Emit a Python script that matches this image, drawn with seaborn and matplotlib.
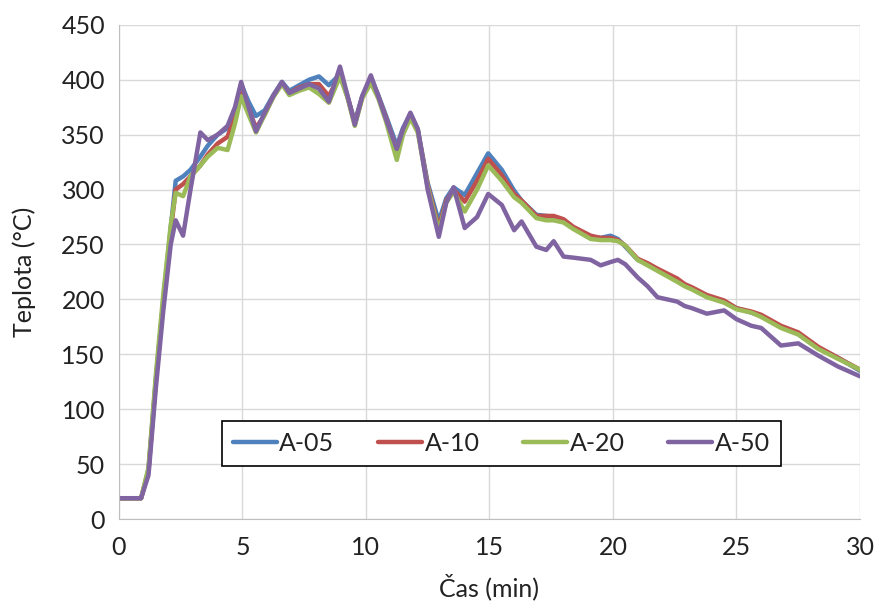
import pandas as pd
import matplotlib
matplotlib.use("Agg")
import matplotlib.pyplot as plt
import seaborn as sns

# Time axis (min) shared by all four series
cas = [0, 0.9, 1.2, 1.5, 1.8, 2.1, 2.3, 2.6, 2.9, 3.3, 3.6, 4.0, 4.4, 4.7, 4.95,
       5.25, 5.55, 5.9, 6.25, 6.6, 6.9, 7.3, 7.7, 8.1, 8.5, 8.95, 9.25, 9.55, 9.85,
       10.2, 10.5, 10.8, 11.25, 11.5, 11.8, 12.1, 12.5, 12.95, 13.25, 13.55, 14.0,
       14.5, 14.95, 15.5, 16.0, 16.3, 16.9, 17.3, 17.6, 18.0, 18.4, 19.1, 19.5,
       19.9, 20.2, 20.5, 21.0, 21.4, 21.8, 22.6, 22.9, 23.2, 23.8, 24.5, 25.0,
       25.6, 26.0, 26.8, 27.5, 28.3, 29.1, 30.0]

a05 = [19, 19, 45, 128, 200, 265, 308, 312, 318, 330, 340, 350, 356, 372, 396,
       380, 367, 372, 386, 398, 390, 395, 400, 403, 395, 405, 385, 362, 385,
       402, 386, 368, 340, 356, 369, 355, 306, 271, 292, 302, 295,
       315, 333, 318, 299, 290, 277, 276, 275, 272, 265, 257, 256,
       258, 255, 248, 236, 232, 227, 218, 213, 210, 203, 198, 192,
       188, 185, 175, 169, 156, 147, 135]

a10 = [19, 19, 44, 126, 198, 262, 300, 305, 312, 322, 332, 342, 348, 368, 393,
       374, 356, 368, 385, 397, 388, 393, 396, 396, 385, 405, 385, 360, 384,
       400, 385, 366, 336, 354, 368, 354, 304, 265, 290, 300, 289,
       308, 328, 313, 296, 290, 276, 276, 276, 273, 266, 258, 256,
       256, 254, 249, 237, 233, 228, 219, 214, 211, 204, 199, 192,
       189, 186, 176, 170, 157, 147, 136]

a20 = [19, 19, 47, 132, 205, 268, 297, 294, 312, 322, 330, 338, 336, 360, 385,
       368, 352, 368, 384, 396, 386, 390, 393, 387, 379, 403, 384, 358, 383,
       397, 383, 363, 327, 350, 365, 352, 302, 262, 288, 298, 280,
       300, 322, 308, 293, 288, 274, 272, 272, 270, 264, 255, 254,
       254, 253, 249, 236, 231, 226, 216, 212, 209, 202, 197, 191,
       188, 184, 174, 168, 155, 146, 136]

a50 = [19, 19, 40, 120, 190, 250, 272, 258, 300, 352, 345, 350, 358, 375, 398,
       375, 353, 370, 385, 398, 388, 392, 396, 392, 380, 412, 386, 359, 385,
       404, 385, 365, 337, 355, 370, 355, 300, 257, 288, 302, 265,
       275, 296, 286, 263, 271, 248, 245, 253, 239, 238, 236, 231,
       234, 236, 232, 220, 212, 202, 198, 194, 192, 187, 190, 182,
       176, 174, 158, 160, 149, 139, 130]

series = {"A-05": a05, "A-10": a10, "A-20": a20, "A-50": a50}
colors = ["#4F81BD", "#C0504D", "#9BBB59", "#8064A2"]

df = pd.concat(
    [pd.DataFrame({"cas": cas, "teplota": v, "vzorek": k}) for k, v in series.items()],
    ignore_index=True,
)

sns.set_style("whitegrid")
plt.rcParams["font.family"] = ["Lato", "DejaVu Sans"]

fig = plt.figure(figsize=(8.74, 6.05), dpi=100)
ax = fig.add_axes([0.136, 0.142, 0.848, 0.817])

sns.lineplot(data=df, x="cas", y="teplota", hue="vzorek", palette=colors,
             linewidth=3.2, ax=ax)
for line in ax.get_lines():
    line.set_solid_joinstyle("round")
    line.set_solid_capstyle("round")

ax.set_xlim(0, 30)
ax.set_ylim(0, 450)
ax.set_xticks(range(0, 31, 5))
ax.set_yticks(range(0, 451, 50))
ax.tick_params(labelsize=18, length=0, colors="#222222")
ax.tick_params(axis="x", pad=12)
ax.tick_params(axis="y", pad=10)
ax.set_xlabel("Čas (min)", fontsize=18, labelpad=11, color="#222222")
ax.set_ylabel("Teplota (°C)", fontsize=18, labelpad=18, color="#222222")
ax.grid(True, color="#D9D9D9", linewidth=1)
for side in ["top", "right"]:
    ax.spines[side].set_visible(False)
for side in ["left", "bottom"]:
    ax.spines[side].set_color("#BFBFBF")

leg = ax.legend(ncol=4, loc="center", bbox_to_anchor=(0.516, 0.153),
                fontsize=18, frameon=True, fancybox=False, handlelength=1.75,
                columnspacing=1.75, handletextpad=0.1, borderpad=0.45,
                borderaxespad=0)
leg.get_frame().set_edgecolor("black")
leg.get_frame().set_linewidth(1.2)
leg.get_frame().set_alpha(1)
for line in leg.get_lines():
    line.set_linewidth(3.2)
for t in leg.get_texts():
    t.set_color("#222222")

fig.savefig("out.png", dpi=100)
